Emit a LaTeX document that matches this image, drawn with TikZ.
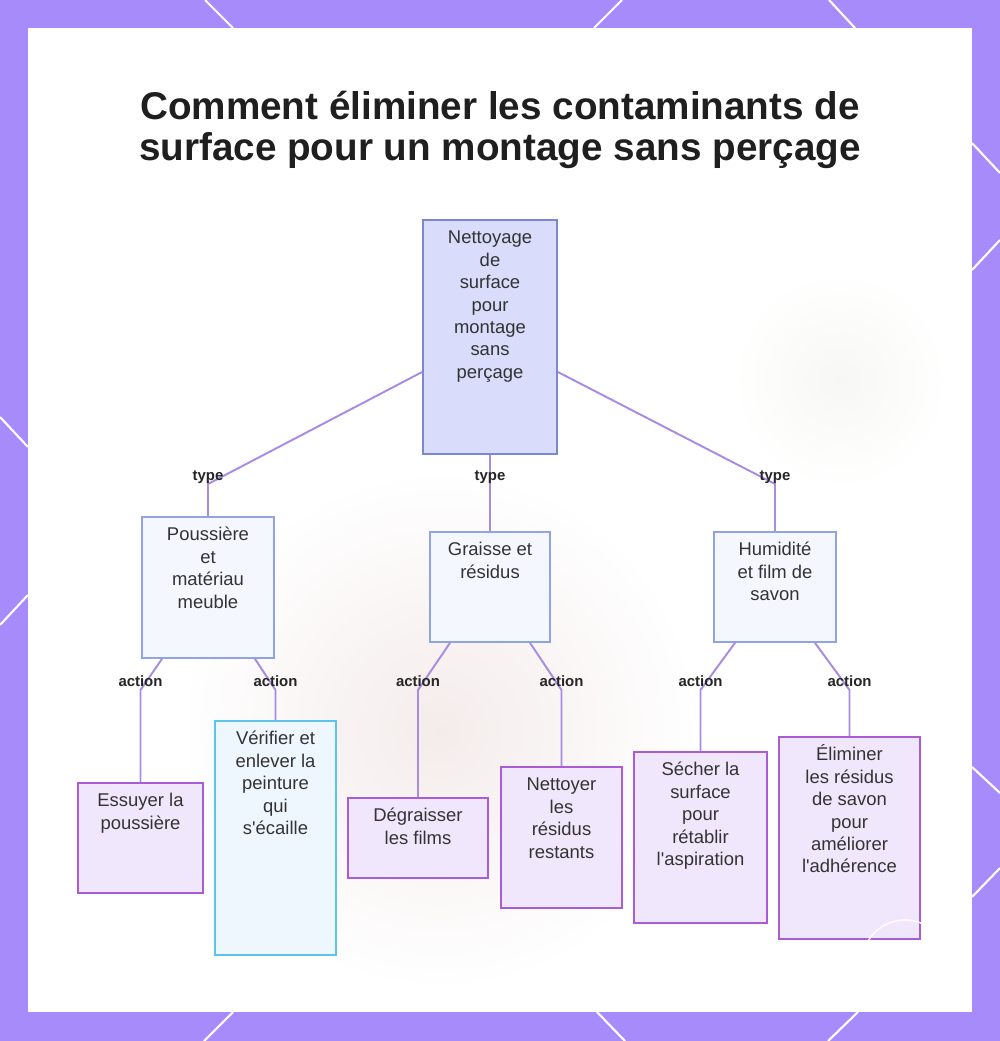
\documentclass[tikz,border=0pt]{standalone}
\usepackage{fontspec}
\setmainfont{Liberation Sans}
\usetikzlibrary{calc}

\definecolor{framecol}{HTML}{A78BFA}
\definecolor{edgecol}{HTML}{A88BE3}
\definecolor{rootfill}{HTML}{D9DCFB}
\definecolor{rootline}{HTML}{7C87D2}
\definecolor{catfill}{HTML}{F5F7FF}
\definecolor{catline}{HTML}{90A4E2}
\definecolor{actfill}{HTML}{F1E7FD}
\definecolor{actline}{HTML}{A85CD6}
\definecolor{chkfill}{HTML}{EEF7FE}
\definecolor{chkline}{HTML}{5CC3EA}
\definecolor{inktext}{HTML}{333333}
\definecolor{blobpink}{HTML}{F4ECEB}
\definecolor{blobgreen}{HTML}{F7F8F4}

% box text sits at the top of a fixed size box
\newcommand{\cell}[3]{\parbox[c][#2][t]{#1}{\centering\rule{0pt}{13.6pt}#3}}

\tikzset{
  box/.style={draw, line width=1pt, inner sep=0pt, text=inktext,
    font=\fontsize{10.5pt}{12.75pt}\selectfont},
  rootbox/.style={box, fill=rootfill, draw=rootline},
  catbox/.style={box, fill=catfill, draw=catline},
  actbox/.style={box, fill=actfill, draw=actline},
  chkbox/.style={box, fill=chkfill, draw=chkline},
  edge/.style={draw=edgecol, line width=1.1pt},
  lab/.style={font=\bfseries\fontsize{8.5pt}{10pt}\selectfont, text=black!85, inner sep=1pt},
  title/.style={font=\bfseries\fontsize{22pt}{23pt}\selectfont, text=black!88, align=center}
}

\begin{document}
\begin{tikzpicture}[x=0.02cm, y=-0.02cm]
  \useasboundingbox (0,0) rectangle (1000,1041);

  % frame
  \fill[framecol] (0,0) rectangle (1000,1041);
  \foreach \xa/\ya/\xb/\yb in {205/0/233/28, 622/0/594/28, 829/0/855/28,
      0/417/28/447, 28/595/0/625, 972/143/1000/173, 972/270/1000/240,
      972/767/1000/793, 972/897/1000/868, 233/1012/204/1041,
      597/1012/625/1041, 858/1012/828/1041}
    \draw[white, line width=1.2pt] (\xa,\ya) -- (\xb,\yb);
  \fill[white] (28,28) rectangle (972,1012);

  % faded background
  \begin{scope}
    \clip (28,28) rectangle (972,1012);
    \shade[inner color=blobpink, outer color=white] (440,730) circle (260);
    \shade[inner color=blobgreen, outer color=white] (840,380) circle (110);
  \end{scope}

  \node[title] (title) at (500,130) {Comment éliminer les contaminants de\\surface pour un montage sans perçage};

  % boxes
  \node[rootbox] (root) at (490,337) {\cell{2.68cm}{4.68cm}{Nettoyage\\de\\surface\\pour\\montage\\sans\\perçage}};

  \node[catbox] (p1) at (208,587.5) {\cell{2.64cm}{2.82cm}{Poussière\\et\\matériau\\meuble}};
  \node[catbox] (p2) at (490,587) {\cell{2.4cm}{2.2cm}{Graisse et\\résidus}};
  \node[catbox] (p3) at (775,587) {\cell{2.44cm}{2.2cm}{Humidité\\et film de\\savon}};

  \node[actbox] (a1) at (140.5,838) {\cell{2.5cm}{2.2cm}{Essuyer la\\poussière}};
  \node[chkbox] (a2) at (275.5,838) {\cell{2.42cm}{4.68cm}{Vérifier et\\enlever la\\peinture\\qui\\s\textquotesingle écaille}};
  \node[actbox] (a3) at (418,838) {\cell{2.8cm}{1.6cm}{Dégraisser\\les films}};
  \node[actbox] (a4) at (561.5,837.5) {\cell{2.42cm}{2.82cm}{Nettoyer\\les\\résidus\\restants}};
  \node[actbox] (a5) at (700.5,837.5) {\cell{2.66cm}{3.42cm}{Sécher la\\surface\\pour\\rétablir\\l\textquotesingle aspiration}};
  \node[actbox] (a6) at (849.5,838) {\cell{2.82cm}{4.04cm}{Éliminer\\les résidus\\de savon\\pour\\améliorer\\l\textquotesingle adhérence}};

  % type links
  \draw[edge] ([yshift=-0.7cm]root.west) -- (p1.north |- 0,484) -- (p1.north);
  \draw[edge] (root.south) -- (p2.north);
  \draw[edge] ([yshift=-0.7cm]root.east) -- (p3.north |- 0,484) -- (p3.north);
  \foreach \dst in {p1,p2,p3}
    \node[lab] (lab-\dst) at (\dst.north |- 0,477) {type};

  % action links
  \foreach \src/\dx/\dst in {p1/-0.92/a1, p1/0.94/a2, p2/-0.8/a3, p2/0.8/a4, p3/-0.8/a5, p3/0.8/a6} {
    \draw[edge] ([xshift=\dx cm]\src.south) -- (\dst.north |- 0,690) -- (\dst.north);
    \node[lab] (lab-\dst) at (\dst.north |- 0,681) {action};
  }

  % watermark ring
  \draw[white, line width=0.8pt] (905,963) circle (43);
\end{tikzpicture}
\end{document}
